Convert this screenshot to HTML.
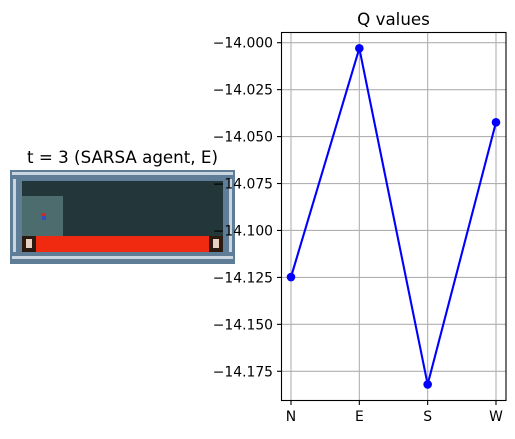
<!DOCTYPE html>
<html><head><meta charset="utf-8"><style>
body{margin:0;background:#fff;width:515px;height:435px;overflow:hidden;font-family:"DejaVu Sans","Liberation Sans",sans-serif}
</style></head><body>
<svg width="515" height="435" xmlns="http://www.w3.org/2000/svg" font-family="DejaVu Sans, Liberation Sans, sans-serif">
<g>
<text x="122.5" y="163" font-size="16.7" text-anchor="middle">t = 3 (SARSA agent, E)</text>
<rect x="10" y="170" width="225" height="94" fill="#5f7d97"/>
<rect x="12" y="172" width="221" height="3" fill="#c9d6e0"/>
<rect x="12" y="256" width="221" height="3" fill="#c9d6e0"/>
<rect x="13" y="179" width="3" height="73" fill="#c9d6e0"/>
<rect x="229" y="179" width="3" height="73" fill="#c9d6e0"/>
<rect x="22" y="181" width="201" height="55" fill="#23373a"/>
<rect x="22" y="196" width="41" height="40" fill="#4d6c6d"/>
<rect x="36" y="236" width="173" height="16" fill="#f02a10"/>
<rect x="22" y="236" width="14" height="16" fill="#2a1a10"/>
<rect x="26" y="239" width="6" height="9" fill="#e8d0c0"/>
<rect x="209" y="236" width="14" height="16" fill="#2a1a10"/>
<rect x="213" y="239" width="6" height="9" fill="#e8d0c0"/>
<g><rect x="41" y="213" width="5" height="4" fill="#c03030"/><rect x="42" y="216" width="4" height="4" fill="#3050c0"/></g>
</g>
<g>
<text x="393.5" y="25" font-size="16.7" text-anchor="middle">Q values</text>
<g id="grid"></g><g id="series"></g>
<rect x="281.5" y="32.5" width="224.5" height="368" fill="none" stroke="#000" stroke-width="1.1"/>
<g id="ticks"></g>
</g>
</svg>
<script>
const categories=["N","E","S","W"];
const qValues=[-14.1248,-14.0030,-14.1820,-14.0424];
const yTicks=[-14.000,-14.025,-14.050,-14.075,-14.100,-14.125,-14.150,-14.175];
const NS="http://www.w3.org/2000/svg";
function xs(i){return 291+i*68.33;}
function ys(v){return 42.7+(-14.0-v)/0.025*46.94;}
function mk(t,a,p){const e=document.createElementNS(NS,t);for(const k in a)e.setAttribute(k,a[k]);p.appendChild(e);return e;}
const grid=document.getElementById('grid'),ser=document.getElementById('series'),tk=document.getElementById('ticks');
categories.forEach((c,i)=>{
 const g=mk('line',{x1:xs(i),x2:xs(i),y1:32.5,y2:400.5,stroke:'#b0b0b0','stroke-width':1.1},grid);
 
 
 mk('line',{x1:xs(i),x2:xs(i),y1:400.5,y2:405,stroke:'#000','stroke-width':1.1},tk);
 const t=mk('text',{x:xs(i),y:421,'font-size':13.9,'text-anchor':'middle'},tk);t.textContent=c;
 
 
});
yTicks.forEach(v=>{
 const y=ys(v);
 const g=mk('line',{x1:281.5,x2:506,y1:y,y2:y,stroke:'#b0b0b0','stroke-width':1.1},grid);
 
 
 mk('line',{x1:277,x2:281.5,y1:y,y2:y,stroke:'#000','stroke-width':1.1},tk);
 const t=mk('text',{x:273,y:y+5,'font-size':13.9,'text-anchor':'end'},tk);t.textContent='\u2212'+Math.abs(v).toFixed(3);
 
 
});
const pl=mk('polyline',{points:qValues.map((v,i)=>xs(i)+','+ys(v)).join(' '),fill:'none',stroke:'#0000ff','stroke-width':2.1},ser);


qValues.forEach((v,i)=>{
 const c=mk('circle',{cx:xs(i),cy:ys(v),r:4.3,fill:'#0000ff'},ser);
 
 
});
</script>
</body></html>
